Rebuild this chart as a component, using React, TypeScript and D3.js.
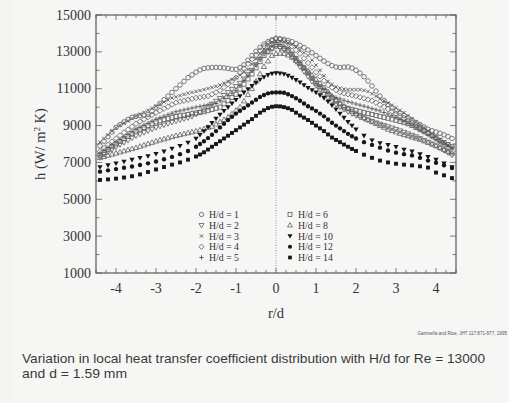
import React from "react";
import * as d3 from "d3";

// r/d grids
const R_FINE = d3.range(89).map((i) => +(-4.4 + i * 0.1).toFixed(1));
const R_FILLED = [
  ...d3.range(12).map((i) => +(-4.4 + i * 0.2).toFixed(1)),
  ...d3.range(41).map((i) => +(-2.0 + i * 0.1).toFixed(1)),
  ...d3.range(12).map((i) => +(2.2 + i * 0.2).toFixed(1)),
];

// h (W/m^2 K) values
const HD1 = [7900,8150,8400,8650,8900,9050,9200,9330,9450,9500,9550,9570,9600,9780,10000,10200,10400,10600,10800,11000,11200,11400,11600,11750,11900,12020,12100,12130,12150,12160,12150,12130,12100,12060,12050,12150,12300,12550,12800,13030,13250,13420,13550,13650,13700,13710,13680,13620,13550,13450,13350,13230,13100,12950,12800,12650,12500,12370,12250,12180,12150,12170,12180,12120,12000,11850,11650,11420,11150,10870,10600,10360,10150,9960,9800,9670,9550,9420,9300,9170,9050,8920,8800,8720,8650,8580,8500,8400,8300];
const HD2 = [7300,7440,7580,7710,7850,7970,8090,8210,8330,8450,8540,8630,8720,8810,8900,8970,9040,9110,9180,9250,9310,9370,9430,9500,9620,9730,9850,10010,10170,10330,10480,10640,10800,10970,11130,11300,11530,11770,12000,12300,12600,12900,13030,13170,13300,13200,13100,13000,12730,12470,12200,11930,11670,11400,11170,10930,10700,10520,10330,10150,10020,9880,9750,9650,9550,9450,9380,9300,9230,9150,9080,9010,8940,8870,8800,8720,8640,8560,8480,8400,8300,8200,8100,8000,7900,7780,7650,7530,7400];
const HD3 = [8100,8300,8500,8700,8880,9020,9140,9260,9380,9500,9610,9720,9830,9940,10050,10160,10280,10390,10500,10560,10630,10690,10750,10800,10850,10900,10950,11010,11070,11130,11200,11300,11400,11500,11600,11750,11900,12050,12330,12620,12900,13150,13400,13530,13600,13590,13550,13480,13400,13270,13120,12960,12800,12550,12280,12000,11700,11400,11230,11100,11030,10980,10950,10950,10950,10950,10910,10850,10730,10590,10450,10330,10220,10100,9970,9830,9700,9540,9380,9210,9050,8890,8720,8560,8400,8250,8100,7950,7800];
const HD4 = [7600,7780,7950,8130,8300,8460,8620,8780,8940,9100,9220,9340,9460,9580,9700,9810,9920,10030,10140,10250,10300,10350,10400,10450,10500,10530,10570,10600,10700,10800,10900,11070,11250,11420,11600,11850,12100,12350,12600,12830,13070,13300,13450,13600,13750,13670,13590,13500,13300,13100,12900,12650,12400,12150,11900,11670,11430,11200,11070,10930,10800,10750,10700,10650,10600,10540,10480,10410,10350,10240,10130,10010,9900,9770,9650,9520,9400,9270,9150,9020,8900,8750,8600,8450,8300,8130,7950,7780,7600];
const HD5 = [7500,7650,7800,7950,8100,8240,8380,8520,8660,8800,8910,9020,9130,9240,9350,9430,9510,9590,9670,9750,9800,9850,9900,9950,10000,10040,10080,10120,10160,10200,10340,10480,10620,10760,10900,11170,11450,11720,12000,12330,12670,13000,13170,13330,13500,13400,13300,13200,12930,12670,12400,12120,11850,11570,11300,11120,10950,10770,10600,10520,10450,10370,10300,10240,10170,10110,10050,9990,9920,9860,9800,9710,9630,9540,9450,9340,9230,9110,9000,8870,8750,8620,8500,8370,8250,8120,8000,7900,7800];
const HD6 = [7400,7550,7700,7850,8000,8140,8280,8420,8560,8700,8800,8900,9000,9100,9200,9260,9330,9390,9450,9490,9530,9560,9600,9640,9680,9710,9750,9810,9870,9940,10000,10180,10350,10530,10700,10980,11250,11530,11800,12130,12470,12800,13000,13200,13400,13300,13200,13100,12870,12630,12400,12120,11850,11570,11300,11100,10900,10700,10500,10330,10170,10000,9940,9880,9810,9750,9700,9650,9600,9550,9500,9450,9400,9350,9290,9230,9160,9100,9000,8900,8800,8700,8580,8450,8330,8200,8080,7970,7850];
const HD8 = [7250,7310,7380,7440,7500,7560,7620,7680,7740,7800,7870,7940,8010,8080,8150,8210,8270,8330,8390,8450,8500,8550,8600,8650,8700,8760,8820,8890,8950,9070,9200,9320,9450,9630,9820,10000,10330,10670,11000,11400,11800,12200,12500,12800,12900,12920,12900,12820,12700,12530,12350,12150,11950,11730,11500,11280,11050,10830,10600,10400,10200,10050,9900,9770,9650,9540,9420,9310,9200,9100,9000,8900,8800,8720,8650,8570,8500,8440,8370,8310,8250,8160,8080,7990,7900,7800,7700,7600,7500];
const HD10 = [6750,6850,6950,7050,7150,7250,7350,7470,7600,7750,7900,8080,
  8300,8500,8700,8920,9150,9380,9600,9800,10000,10200,10400,10600,10800,10980,11150,11330,11500,11630,11750,11820,11850,11840,11800,11710,11600,11480,11350,11200,11050,10930,10800,10650,10500,10300,10100,9880,9650,9430,9200,9000,8800,
  8450,8200,8050,7950,7850,7700,7600,7450,7300,7150,6950,6750];
const HD12 = [6500,6570,6640,6710,6780,6860,6950,7050,7170,7300,7450,7620,
  7850,8000,8150,8320,8500,8700,8900,9100,9300,9480,9650,9800,9950,10100,10250,10400,10550,10660,10750,10790,10800,10800,10780,10700,10600,10480,10350,10200,10050,9930,9800,9650,9500,9330,9150,9000,8850,8700,8550,8420,8300,
  8100,7950,7800,7650,7530,7450,7380,7250,7100,6980,6850,6700];
const HD14 = [6050,6080,6120,6180,6250,6350,6480,6620,6750,6880,7000,7150,
  7320,7430,7550,7700,7850,8000,8150,8300,8450,8600,8750,8900,9050,9200,9350,9530,9700,9830,9950,10020,10050,10040,10000,9940,9850,9700,9550,9430,9300,9150,9000,8850,8700,8520,8350,8220,8100,7970,7850,7730,7620,
  7420,7250,7100,7000,6930,6880,6840,6790,6720,6450,6300,6150];

const X_TICKS = [-4, -3, -2, -1, 0, 1, 2, 3, 4];
const Y_TICKS = [1000, 3000, 5000, 7000, 9000, 11000, 13000, 15000];

type Sym = "circle" | "tdown" | "cross" | "diamond" | "plus" | "square" | "tup" | "ftdown" | "fcircle" | "fsquare";

const SERIES: { label: string; r: number[]; v: number[]; sym: Sym }[] = [
  { label: "H/d = 8", r: R_FINE, v: HD8, sym: "tup" },
  { label: "H/d = 6", r: R_FINE, v: HD6, sym: "square" },
  { label: "H/d = 2", r: R_FINE, v: HD2, sym: "tdown" },
  { label: "H/d = 5", r: R_FINE, v: HD5, sym: "plus" },
  { label: "H/d = 4", r: R_FINE, v: HD4, sym: "diamond" },
  { label: "H/d = 3", r: R_FINE, v: HD3, sym: "cross" },
  { label: "H/d = 1", r: R_FINE, v: HD1, sym: "circle" },
  { label: "H/d = 10", r: R_FILLED, v: HD10, sym: "ftdown" },
  { label: "H/d = 12", r: R_FILLED, v: HD12, sym: "fcircle" },
  { label: "H/d = 14", r: R_FILLED, v: HD14, sym: "fsquare" },
];

const LEGEND_LEFT: [Sym, string][] = [
  ["circle", "H/d = 1"],
  ["tdown", "H/d = 2"],
  ["cross", "H/d = 3"],
  ["diamond", "H/d = 4"],
  ["plus", "H/d = 5"],
];
const LEGEND_RIGHT: [Sym, string][] = [
  ["square", "H/d = 6"],
  ["tup", "H/d = 8"],
  ["ftdown", "H/d = 10"],
  ["fcircle", "H/d = 12"],
  ["fsquare", "H/d = 14"],
];

const OPEN = "#5e5e5e";
const FILLED = "#161616";

function Marker({ sym, x, y, k = 1 }: { sym: Sym; x: number; y: number; k?: number }) {
  const s = 2.3 * k;
  switch (sym) {
    case "circle":
      return <circle cx={x} cy={y} r={s} fill="none" stroke={OPEN} strokeWidth={0.8} />;
    case "tdown":
      return <path d={`M${x - s * 1.15},${y - s * 0.8}L${x + s * 1.15},${y - s * 0.8}L${x},${y + s * 1.2}Z`} fill="none" stroke={OPEN} strokeWidth={0.8} />;
    case "tup":
      return <path d={`M${x - s * 1.15},${y + s * 0.8}L${x + s * 1.15},${y + s * 0.8}L${x},${y - s * 1.2}Z`} fill="none" stroke={OPEN} strokeWidth={0.8} />;
    case "cross":
      return <path d={`M${x - s * 0.75},${y - s * 0.75}L${x + s * 0.75},${y + s * 0.75}M${x - s * 0.75},${y + s * 0.75}L${x + s * 0.75},${y - s * 0.75}`} stroke="#505050" strokeWidth={0.9} />;
    case "diamond":
      return <path d={`M${x},${y - s * 1.2}L${x + s * 1.2},${y}L${x},${y + s * 1.2}L${x - s * 1.2},${y}Z`} fill="none" stroke={OPEN} strokeWidth={0.8} />;
    case "plus":
      return <path d={`M${x - s},${y}L${x + s},${y}M${x},${y - s}L${x},${y + s}`} stroke="#555" strokeWidth={0.9} />;
    case "square":
      return <rect x={x - s * 0.9} y={y - s * 0.9} width={s * 1.8} height={s * 1.8} fill="none" stroke={OPEN} strokeWidth={0.8} />;
    case "ftdown":
      return <path d={`M${x - s * 1.15},${y - s * 0.8}L${x + s * 1.15},${y - s * 0.8}L${x},${y + s * 1.2}Z`} fill={FILLED} />;
    case "fcircle":
      return <circle cx={x} cy={y} r={s * 0.95} fill={FILLED} />;
    case "fsquare":
      return <rect x={x - s * 0.85} y={y - s * 0.85} width={s * 1.7} height={s * 1.7} fill={FILLED} />;
  }
  return null;
}

export default function App() {
  const W = 509;
  const H = 403;
  const x = d3.scaleLinear().domain([-4.5, 4.5]).range([96, 456]);
  const y = d3.scaleLinear().domain([1000, 15000]).range([273, 15]);
  const [x0, x1] = x.range();
  const [yb, yt] = y.range();
  const frame = "#5a5a5a";

  const xMinor = d3.range(-4.5, 4.5001, 0.25).map((v) => +v.toFixed(2));
  const yMinor = d3.range(1000, 15001, 1000);

  const serif = "'Liberation Serif', 'DejaVu Serif', serif";
  const sans = "'Liberation Sans', Arial, sans-serif";

  return (
    <svg width={W} height={H} style={{ display: "block", position: "absolute", left: 0, top: 0 }}>
      <rect x={0} y={0} width={W} height={H} fill="#f4f4f3" />
      <rect x={12} y={0} width={W - 12} height={H} fill="#f6f6f5" />

      {/* zero line */}
      <line x1={x(0)} x2={x(0)} y1={yt} y2={yb} stroke="#888" strokeWidth={0.8} strokeDasharray="1,1.5" />

      {/* ticks */}
      {xMinor.map((v) => {
        const major = Number.isInteger(v);
        const len = major ? 5 : 3;
        return (
          <g key={"xt" + v}>
            <line x1={x(v)} x2={x(v)} y1={yb} y2={yb - len} stroke={frame} strokeWidth={0.8} />
            <line x1={x(v)} x2={x(v)} y1={yt} y2={yt + len} stroke={frame} strokeWidth={0.8} />
          </g>
        );
      })}
      {yMinor.map((v) => {
        const major = Y_TICKS.includes(v);
        const len = major ? 6 : 3.5;
        return (
          <g key={"yt" + v}>
            <line x1={x0} x2={x0 + len} y1={y(v)} y2={y(v)} stroke={frame} strokeWidth={0.8} />
            <line x1={x1} x2={x1 - len} y1={y(v)} y2={y(v)} stroke={frame} strokeWidth={0.8} />
          </g>
        );
      })}

      <rect x={x0} y={yt} width={x1 - x0} height={yb - yt} fill="none" stroke={frame} strokeWidth={1.2} />

      {/* tick labels */}
      {X_TICKS.map((v) => (
        <text key={"xl" + v} x={x(v)} y={293} textAnchor="middle" fontFamily={serif} fontSize={14} fill="#333">
          {v}
        </text>
      ))}
      {Y_TICKS.map((v) => (
        <text key={"yl" + v} x={91} y={y(v) + 4.5} textAnchor="end" fontFamily={serif} fontSize={14} fill="#333">
          {v}
        </text>
      ))}

      {/* axis titles */}
      <text x={x(0)} y={318} textAnchor="middle" fontFamily={serif} fontSize={14.5} fill="#333">
        r/d
      </text>
      <text transform="translate(45,144) rotate(-90)" textAnchor="middle" fontFamily={serif} fontSize={14.5} fill="#333">
        h (W/ m<tspan dy={-5} fontSize={9}>2</tspan>
        <tspan dy={5}> K)</tspan>
      </text>

      {/* data */}
      {SERIES.map((s) => (
        <g key={s.label}>
          {s.r.map((r, i) => (
            <Marker key={i} sym={s.sym} x={x(r)} y={y(s.v[i])} />
          ))}
        </g>
      ))}

      {/* legend */}
      {LEGEND_LEFT.map(([sym, lab], i) => (
        <g key={"ll" + i}>
          <Marker sym={sym} x={201.5} y={214.5 + i * 10.75} k={0.95} />
          <text x={209} y={218 + i * 10.75} fontFamily={serif} fontSize={9.8} fill="#333">
            {lab}
          </text>
        </g>
      ))}
      {LEGEND_RIGHT.map(([sym, lab], i) => (
        <g key={"lr" + i}>
          <Marker sym={sym} x={290} y={214.5 + i * 10.75} k={0.95} />
          <text x={298} y={218 + i * 10.75} fontFamily={serif} fontSize={9.8} fill="#333">
            {lab}
          </text>
        </g>
      ))}

      {/* citation */}
      <text x={507} y={335} textAnchor="end" fontFamily={sans} fontSize={4.6} fill="#555">
        Garimella and Rice, JHT 117:871-877, 1995
      </text>

      {/* caption */}
      <text x={22} y={363} fontFamily={sans} fontSize={12.8} fill="#3a3a3a" textLength={463} lengthAdjust="spacingAndGlyphs">
        Variation in local heat transfer coefficient distribution with H/d for Re = 13000
      </text>
      <text x={22} y={377.5} fontFamily={sans} fontSize={12.8} fill="#3a3a3a" textLength={105} lengthAdjust="spacingAndGlyphs">
        and d = 1.59 mm
      </text>
    </svg>
  );
}
